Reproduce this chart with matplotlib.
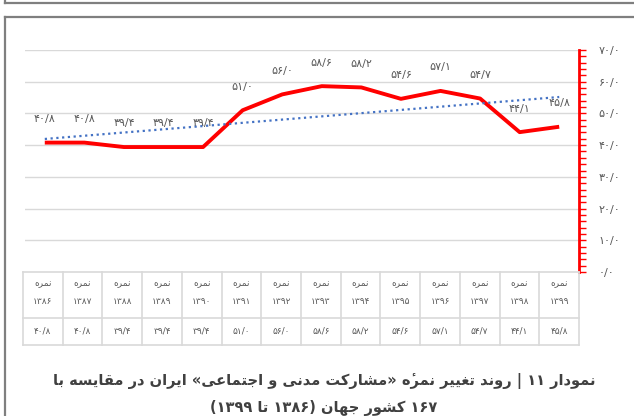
import numpy as np
import matplotlib
matplotlib.use("Agg")
import matplotlib.pyplot as plt
from matplotlib.lines import Line2D
from matplotlib.ticker import MultipleLocator, FuncFormatter

# ---------------- data ----------------
years = ['1386', '1387', '1388', '1389', '1390', '1391', '1392',
         '1393', '1394', '1395', '1396', '1397', '1398', '1399']
values = [40.8, 40.8, 39.4, 39.4, 39.4, 51.0, 56.0,
          58.6, 58.2, 54.6, 57.1, 54.7, 44.1, 45.8]
row_label = 'نمره'
title_line1 = 'نمودار ۱۱ | روند تغییر نمرهٔ «مشارکت مدنی و اجتماعی» ایران در مقایسه با'
title_line2 = '۱۶۷ کشور جهان (۱۳۸۶ تا ۱۳۹۹)'
y_ticks = [0, 10, 20, 30, 40, 50, 60, 70]

# ---------------- helpers (Persian shaping for display) ----------------
FA = str.maketrans('0123456789', '۰۱۲۳۴۵۶۷۸۹')

def fa_num(v, fmt='{:.1f}'):
    return fmt.format(v).replace('.', '/').translate(FA)

FORMS = {
    '\u0627': ('\uFE8D', '\uFE8E', None, None),
    '\u0628': ('\uFE8F', '\uFE90', '\uFE91', '\uFE92'),
    '\u062A': ('\uFE95', '\uFE96', '\uFE97', '\uFE98'),
    '\u062C': ('\uFE9D', '\uFE9E', '\uFE9F', '\uFEA0'),
    '\u062F': ('\uFEA9', '\uFEAA', None, None),
    '\u0631': ('\uFEAD', '\uFEAE', None, None),
    '\u0633': ('\uFEB1', '\uFEB2', '\uFEB3', '\uFEB4'),
    '\u0634': ('\uFEB5', '\uFEB6', '\uFEB7', '\uFEB8'),
    '\u0639': ('\uFEC9', '\uFECA', '\uFECB', '\uFECC'),
    '\u063A': ('\uFECD', '\uFECE', '\uFECF', '\uFED0'),
    '\u0642': ('\uFED5', '\uFED6', '\uFED7', '\uFED8'),
    '\u06A9': ('\uFB8E', '\uFB8F', '\uFB90', '\uFB91'),
    '\u0645': ('\uFEE1', '\uFEE2', '\uFEE3', '\uFEE4'),
    '\u0646': ('\uFEE5', '\uFEE6', '\uFEE7', '\uFEE8'),
    '\u0647': ('\uFEE9', '\uFEEA', '\uFEEB', '\uFEEC'),
    '\u0648': ('\uFEED', '\uFEEE', None, None),
    '\u06CC': ('\uFBFC', '\uFBFD', '\uFBFE', '\uFBFF'),
}
MARKS = {'\u0654'}
MIRROR = {'(': ')', ')': '(', '\u00ab': '\u00bb', '\u00bb': '\u00ab'}

def shape_run(s):
    chars = list(s)
    base_idx = [i for i, c in enumerate(chars) if c not in MARKS]
    out = []
    for k, i in enumerate(base_idx):
        c = chars[i]
        marks = ''
        j = i + 1
        while j < len(chars) and chars[j] in MARKS:
            marks += chars[j]
            j += 1
        if c in FORMS:
            prev = chars[base_idx[k - 1]] if k > 0 else None
            nxt = chars[base_idx[k + 1]] if k + 1 < len(base_idx) else None
            join_prev = prev in FORMS and FORMS[prev][2] is not None
            join_next = FORMS[c][2] is not None and nxt in FORMS
            f = FORMS[c]
            if join_prev and join_next:
                g = f[3]
            elif join_prev:
                g = f[1]
            elif join_next:
                g = f[2]
            else:
                g = f[0]
        else:
            g = MIRROR.get(c, c)
        out.append(g + marks)
    return out

def rtl(text):
    tokens = text.split(' ')
    vis = []
    for t in tokens:
        runs = []
        cur = ''
        cur_d = None
        for c in t:
            d = c.isdigit()
            if cur and d != cur_d:
                runs.append((cur, cur_d))
                cur = ''
            cur += c
            cur_d = d
        if cur:
            runs.append((cur, cur_d))
        parts = []
        for r, d in runs[::-1]:
            if d:
                parts.append(r)
            else:
                parts.append(''.join(shape_run(r)[::-1]))
        vis.append(''.join(parts))
    return ' '.join(vis[::-1])

# ---------------- figure ----------------
W, H = 634, 416
fig = plt.figure(figsize=(W / 100, H / 100), dpi=100)
plt.rcParams['font.family'] = ['DejaVu Sans']

def fx(px):
    return px / W

def fy(py):
    return 1 - py / H

frame_c = '#7f7f7f'
fig.add_artist(Line2D([fx(5), fx(634)], [fy(3), fy(3)], color=frame_c, lw=1.6))
fig.add_artist(Line2D([fx(5), fx(5)], [fy(0), fy(3)], color=frame_c, lw=1.6))
fig.add_artist(Line2D([fx(5), fx(634)], [fy(17), fy(17)], color=frame_c, lw=1.6))
fig.add_artist(Line2D([fx(5), fx(5)], [fy(17), fy(416)], color=frame_c, lw=1.6))

L, R, T, B = 25, 579, 50, 272
ax = fig.add_axes([fx(L), fy(B), fx(R - L), (B - T) / H])
x = np.arange(len(values))
ax.set_xlim(-0.5, len(values) - 0.5)
ax.set_ylim(0, 70)

for v in y_ticks[1:]:
    ax.axhline(v, color='#d9d9d9', lw=1.0, zorder=1)

ax.plot(x, values, color='#ff0000', lw=2.8, zorder=3, solid_capstyle='butt')
coef = np.polyfit(x, values, 1)
ax.plot(x, np.polyval(coef, x), color='#4472c4', lw=1.6, ls=(0, (1, 1.6)), zorder=4)

for xi, v in zip(x, values):
    ax.annotate(fa_num(v), (xi, v), xytext=(0, 17), textcoords='offset points',
                ha='center', va='center', fontsize=8, color='#595959', zorder=5)

for s in ['left', 'top', 'bottom']:
    ax.spines[s].set_visible(False)
ax.spines['right'].set_color('#ff0000')
ax.spines['right'].set_linewidth(2)
ax.set_xticks([])
ax.yaxis.tick_right()
ax.set_yticks(y_ticks)
ax.yaxis.set_minor_locator(MultipleLocator(2))
ax.yaxis.set_major_formatter(FuncFormatter(lambda v, p: fa_num(v)))
ax.tick_params(axis='y', which='both', direction='out', colors='#ff0000',
               length=5, width=1, labelcolor='#595959', labelsize=8, pad=9)
ax.set_facecolor('none')

# ---------------- data table ----------------
TT, TB = 272, 345
tax = fig.add_axes([fx(L - 2), fy(TB), fx(R - L + 2), (TB - TT) / H])
tax.set_xlim(-0.5, len(values) - 0.5)
tax.set_ylim(TB - TT, 0)
tax.axis('off')
gc = '#d9d9d9'
for yy in [0, 46, TB - TT]:
    tax.plot([-0.5, len(values) - 0.5], [yy, yy], color=gc, lw=1.2, clip_on=False)
for xi in np.arange(len(values) + 1) - 0.5:
    tax.plot([xi, xi], [0, TB - TT], color=gc, lw=1.2, clip_on=False)
lab = rtl(row_label)
for xi, yr, v in zip(x, years, values):
    tax.text(xi, 12, lab, ha='center', va='center', fontsize=6.5, color='#595959')
    tax.text(xi, 30, yr.translate(FA), ha='center', va='center', fontsize=6.5, color='#595959')
    tax.text(xi, 59, fa_num(v), ha='center', va='center', fontsize=6.5, color='#595959')

# ---------------- title ----------------
fig.text(fx(324), fy(381), rtl(title_line1), ha='center', va='center',
         fontsize=10.5, fontweight='bold', color='#404040')
fig.text(fx(324), fy(408), rtl(title_line2), ha='center', va='center',
         fontsize=10.5, fontweight='bold', color='#404040')

fig.savefig('out.png', dpi=100)
